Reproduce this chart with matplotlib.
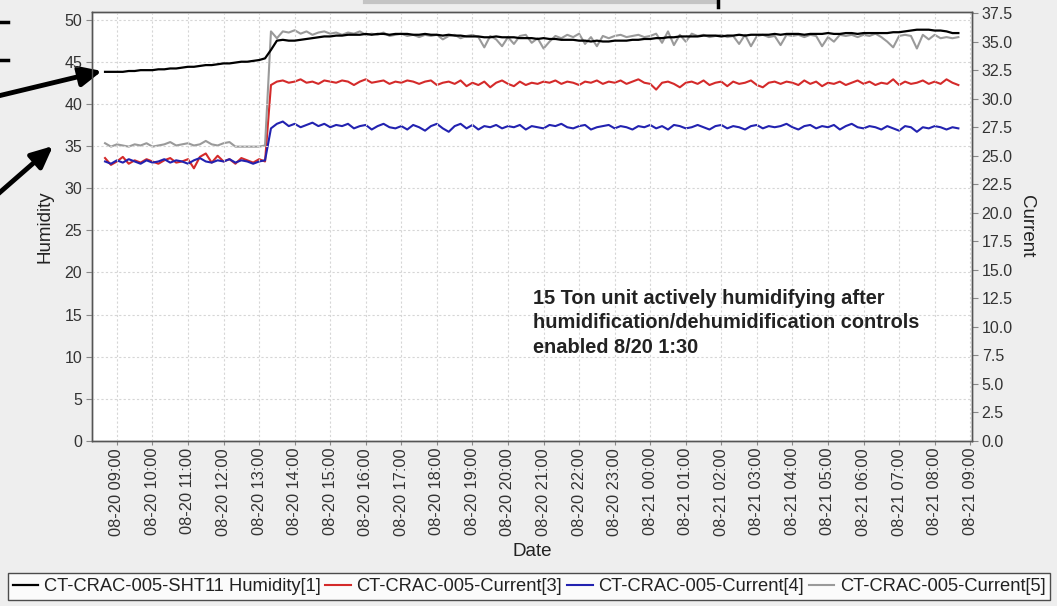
import matplotlib
matplotlib.use("Agg")
import matplotlib.pyplot as plt
import matplotlib.dates as mdates
import numpy as np
import pandas as pd

# ---------------- data (10-minute samples, 08-20 08:40 .. 08-21 08:40) ----------------
start_time = "2013-08-20 08:40"
sample_minutes = 10

humidity_1 = [
    43.8, 43.8, 43.8, 43.8, 43.9, 43.9, 44.0, 44.0, 44.0, 44.1,
    44.1, 44.2, 44.2, 44.3, 44.4, 44.4, 44.5, 44.6, 44.6, 44.7,
    44.8, 44.8, 44.9, 45.0, 45.0, 45.1, 45.2, 45.4, 46.4, 47.5,
    47.6, 47.5, 47.5, 47.6, 47.7, 47.8, 47.9, 48.0, 48.0, 48.1,
    48.1, 48.2, 48.2, 48.2, 48.3, 48.2, 48.3, 48.3, 48.2, 48.3,
    48.3, 48.3, 48.2, 48.2, 48.3, 48.2, 48.2, 48.1, 48.2, 48.1,
    48.1, 48.0, 48.0, 48.0, 47.9, 47.9, 48.0, 47.9, 47.9, 47.9,
    47.8, 47.8, 47.8, 47.7, 47.8, 47.7, 47.7, 47.6, 47.6, 47.6,
    47.5, 47.5, 47.4, 47.5, 47.4, 47.4, 47.5, 47.5, 47.5, 47.6,
    47.6, 47.7, 47.7, 47.8, 47.8, 47.9, 47.9, 48.0, 48.0, 48.0,
    48.0, 48.1, 48.1, 48.1, 48.0, 48.1, 48.1, 48.2, 48.1, 48.2,
    48.2, 48.2, 48.2, 48.3, 48.2, 48.3, 48.3, 48.3, 48.2, 48.3,
    48.3, 48.3, 48.4, 48.3, 48.3, 48.4, 48.4, 48.3, 48.4, 48.4,
    48.4, 48.4, 48.4, 48.5, 48.5, 48.6, 48.7, 48.8, 48.8, 48.8,
    48.7, 48.7, 48.6, 48.4, 48.4,
]

current_3 = [
    24.8, 24.2, 24.5, 24.9, 24.3, 24.6, 24.4, 24.7, 24.5, 24.3,
    24.6, 24.8, 24.4, 24.5, 24.7, 23.9, 24.9, 25.2, 24.4, 25.0,
    24.5, 24.7, 24.3, 24.8, 24.6, 24.4, 24.7, 24.5, 31.2, 31.5,
    31.6, 31.4, 31.5, 31.7, 31.4, 31.5, 31.3, 31.6, 31.5, 31.4,
    31.6, 31.5, 31.2, 31.5, 31.7, 31.4, 31.5, 31.6, 31.3, 31.5,
    31.4, 31.6, 31.5, 31.3, 31.5, 31.6, 31.2, 31.4, 31.5, 31.3,
    31.6, 31.1, 31.4, 31.2, 31.5, 31.0, 31.4, 31.6, 31.3, 31.1,
    31.5, 31.2, 31.4, 31.3, 31.5, 31.4, 31.6, 31.3, 31.5, 31.4,
    31.2, 31.5, 31.4, 31.6, 31.3, 31.5, 31.4, 31.6, 31.3, 31.5,
    31.7, 31.4, 31.3, 30.8, 31.4, 31.5, 31.3, 31.0, 31.4, 31.5,
    31.3, 31.6, 31.2, 31.4, 31.5, 31.1, 31.5, 31.3, 31.4, 31.6,
    31.2, 31.0, 31.4, 31.5, 31.3, 31.5, 31.4, 31.2, 31.6, 31.3,
    31.5, 31.1, 31.4, 31.3, 31.5, 31.2, 31.4, 31.6, 31.3, 31.5,
    31.2, 31.4, 31.3, 31.7, 31.2, 31.5, 31.3, 31.4, 31.6, 31.3,
    31.5, 31.3, 31.7, 31.4, 31.2,
]

current_4 = [
    24.5, 24.3, 24.6, 24.4, 24.7, 24.5, 24.3, 24.6, 24.4, 24.5,
    24.7, 24.4, 24.6, 24.5, 24.3, 24.6, 24.8, 24.5, 24.4, 24.6,
    24.5, 24.7, 24.4, 24.6, 24.5, 24.3, 24.5, 24.6, 27.4, 27.8,
    28.0, 27.6, 27.8, 27.5, 27.7, 27.9, 27.6, 27.8, 27.5, 27.7,
    27.6, 27.8, 27.4, 27.6, 27.7, 27.3, 27.6, 27.8, 27.5, 27.4,
    27.6, 27.3, 27.7, 27.5, 27.2, 27.6, 27.8, 27.4, 27.1, 27.6,
    27.8, 27.4, 27.7, 27.3, 27.6, 27.5, 27.7, 27.4, 27.6, 27.5,
    27.7, 27.3, 27.6, 27.5, 27.4, 27.7, 27.6, 27.8, 27.5, 27.4,
    27.6, 27.7, 27.3, 27.5, 27.6, 27.7, 27.4, 27.6, 27.5, 27.3,
    27.6, 27.5, 27.7, 27.4, 27.6, 27.3, 27.7, 27.6, 27.4, 27.5,
    27.7, 27.5, 27.3, 27.6, 27.7, 27.4, 27.6, 27.5, 27.3, 27.6,
    27.7, 27.4, 27.6, 27.5, 27.6, 27.8, 27.5, 27.3, 27.6, 27.7,
    27.4, 27.6, 27.5, 27.7, 27.3, 27.6, 27.8, 27.5, 27.4, 27.6,
    27.5, 27.3, 27.6, 27.4, 27.2, 27.6, 27.5, 27.1, 27.5, 27.4,
    27.6, 27.5, 27.3, 27.5, 27.4,
]

current_5 = [
    26.1, 25.8, 26.0, 25.9, 25.8, 26.0, 25.9, 26.1, 25.8, 25.9,
    26.0, 26.2, 25.9, 26.0, 26.1, 25.9, 26.0, 26.3, 26.0, 25.9,
    26.1, 26.2, 25.8, 25.8, 25.8, 25.8, 25.8, 25.9, 35.9, 35.3,
    35.9, 35.8, 36.0, 35.7, 35.9, 35.6, 35.8, 35.9, 35.7, 35.8,
    35.6, 35.8, 35.7, 35.9, 35.6, 35.7, 35.6, 35.8, 35.5, 35.6,
    35.7, 35.5, 35.6, 35.4, 35.6, 35.5, 35.6, 35.2, 35.5, 35.6,
    35.3, 35.5, 35.6, 35.4, 34.5, 35.5, 35.2, 34.6, 35.4, 34.8,
    35.5, 35.6, 34.9, 35.3, 34.4, 35.0, 35.5, 35.3, 35.6, 35.4,
    35.7, 34.8, 35.4, 34.6, 35.5, 35.3, 35.5, 35.6, 35.4, 35.5,
    35.6, 35.4, 35.5, 35.7, 34.9, 35.9, 34.7, 35.6, 35.0, 35.7,
    35.5, 35.6, 35.4, 35.5, 35.6, 35.4, 35.5, 34.8, 35.6, 34.6,
    35.5, 35.6, 35.4, 35.5, 34.7, 35.6, 35.5, 35.6, 35.4, 35.6,
    35.5, 34.6, 35.4, 35.0, 35.6, 35.5, 35.6, 35.4, 35.6, 35.5,
    35.7, 35.4, 35.0, 34.5, 35.5, 35.6, 35.5, 34.4, 35.6, 35.2,
    35.6, 35.3, 35.4, 35.3, 35.4,
]

series_labels = [
    "CT-CRAC-005-SHT11 Humidity[1]",
    "CT-CRAC-005-Current[3]",
    "CT-CRAC-005-Current[4]",
    "CT-CRAC-005-Current[5]",
]
note_text = ("15 Ton unit actively humidifying after\n"
             "humidification/dehumidification controls\n"
             "enabled 8/20 1:30")

# ---------------- figure ----------------
W, H = 1057, 606
plt.rcParams["font.family"] = ["Liberation Sans", "DejaVu Sans"]
fig = plt.figure(figsize=(W / 100, H / 100), dpi=100, facecolor="#eeeeee")

def fx(px):
    return px / W

def fy(py):
    return 1 - py / H

left, right, top, bottom = 92, 972, 12, 441
ax = fig.add_axes([fx(left), fy(bottom), fx(right) - fx(left), fy(top) - fy(bottom)])
ax2 = ax.twinx()

def times_for(values):
    return pd.date_range(start_time, periods=len(values), freq=f"{sample_minutes}min")

c_black, c_red, c_blue, c_gray = "#000000", "#d42a2a", "#2222b0", "#9a9a9a"

l1, = ax.plot(times_for(humidity_1), humidity_1, color=c_black, lw=1.6, label=series_labels[0], zorder=5)
l2, = ax2.plot(times_for(current_3), current_3, color=c_red, lw=1.5, label=series_labels[1], zorder=3)
l3, = ax2.plot(times_for(current_4), current_4, color=c_blue, lw=1.5, label=series_labels[2], zorder=3)
l4, = ax2.plot(times_for(current_5), current_5, color=c_gray, lw=1.5, label=series_labels[3], zorder=4)

# humidity axis drawn on top of the current axis
ax.set_zorder(ax2.get_zorder() + 1)
ax.patch.set_visible(False)
ax2.patch.set_visible(True)
ax2.patch.set_facecolor("white")

ax.set_xlim(pd.Timestamp("2013-08-20 08:18"), pd.Timestamp("2013-08-21 09:03"))
ax.set_ylim(0, 50.9)
ax2.set_ylim(0, 37.6)

ax.xaxis.set_major_locator(mdates.HourLocator())
ax.xaxis.set_major_formatter(mdates.DateFormatter("%m-%d %H:%M"))
ax.set_yticks(np.arange(0, 51, 5))
ax2.set_yticks(np.arange(0, 37.6, 2.5))
ax2.yaxis.set_major_formatter(matplotlib.ticker.FormatStrFormatter("%.1f"))

ax.tick_params(axis="x", labelrotation=90, labelsize=11.8, length=3, color="#888888",
               labelcolor="#333333", pad=2)
ax.tick_params(axis="y", labelsize=11.5, length=4, color="#888888", labelcolor="#333333", pad=3)
ax2.tick_params(axis="y", labelsize=11.5, length=4, color="#888888", labelcolor="#333333", pad=3)

ax.grid(True, color="#d6d6d6", linestyle=(0, (2, 2)), lw=0.8)
ax.set_axisbelow(True)

for a in (ax, ax2):
    for s in a.spines.values():
        s.set_color("#555555")
        s.set_linewidth(1.0)

ax.set_ylabel("Humidity", fontsize=13.5, color="#222222", labelpad=8)
ax2.set_ylabel("Current", fontsize=13.5, color="#222222", rotation=270, labelpad=16)
fig.text(fx(532), fy(551), "Date", fontsize=13.5, color="#222222", ha="center", va="center")

fig.text(fx(533), fy(289), note_text, fontsize=14.4, fontweight="bold", color="#222222",
         ha="left", va="top", linespacing=1.36)

# legend
leg = fig.legend(handles=[l1, l2, l3, l4], loc="center", ncol=4,
                 bbox_to_anchor=(fx(8), fy(601), fx(1050) - fx(8), fy(572) - fy(601)),
                 mode="expand", frameon=True, fancybox=False, fontsize=13.2,
                 handlelength=1.4, handletextpad=0.3, borderpad=0.25,
                 borderaxespad=0, columnspacing=0.3)
leg.get_frame().set_edgecolor("#222222")
leg.get_frame().set_linewidth(1.0)
leg.get_frame().set_facecolor("white")
for t in leg.get_texts():
    t.set_color("#222222")

# decorative callout arrows from the source document
arrow_kw = dict(arrowstyle="-|>,head_length=1.3,head_width=0.6", lw=3.5, color="black",
                shrinkA=0, shrinkB=0)
fig.add_artist(matplotlib.patches.FancyArrowPatch((fx(-2), fy(96)), (fx(102), fy(71)),
               transform=fig.transFigure, mutation_scale=10, **arrow_kw))
fig.add_artist(matplotlib.patches.FancyArrowPatch((fx(-2), fy(194)), (fx(53), fy(146)),
               transform=fig.transFigure, mutation_scale=10, **arrow_kw))
for yy in (22, 60):
    fig.add_artist(matplotlib.lines.Line2D([fx(0), fx(8)], [fy(yy), fy(yy)],
                   transform=fig.transFigure, color="black", lw=2.5))
fig.add_artist(matplotlib.lines.Line2D([fx(365), fx(716)], [fy(2), fy(2)],
               transform=fig.transFigure, color="#c4c4c4", lw=3))
fig.add_artist(matplotlib.lines.Line2D([fx(718), fx(718)], [fy(0), fy(7)],
               transform=fig.transFigure, color="black", lw=2.5))

fig.savefig("out.png", dpi=100, facecolor=fig.get_facecolor())
